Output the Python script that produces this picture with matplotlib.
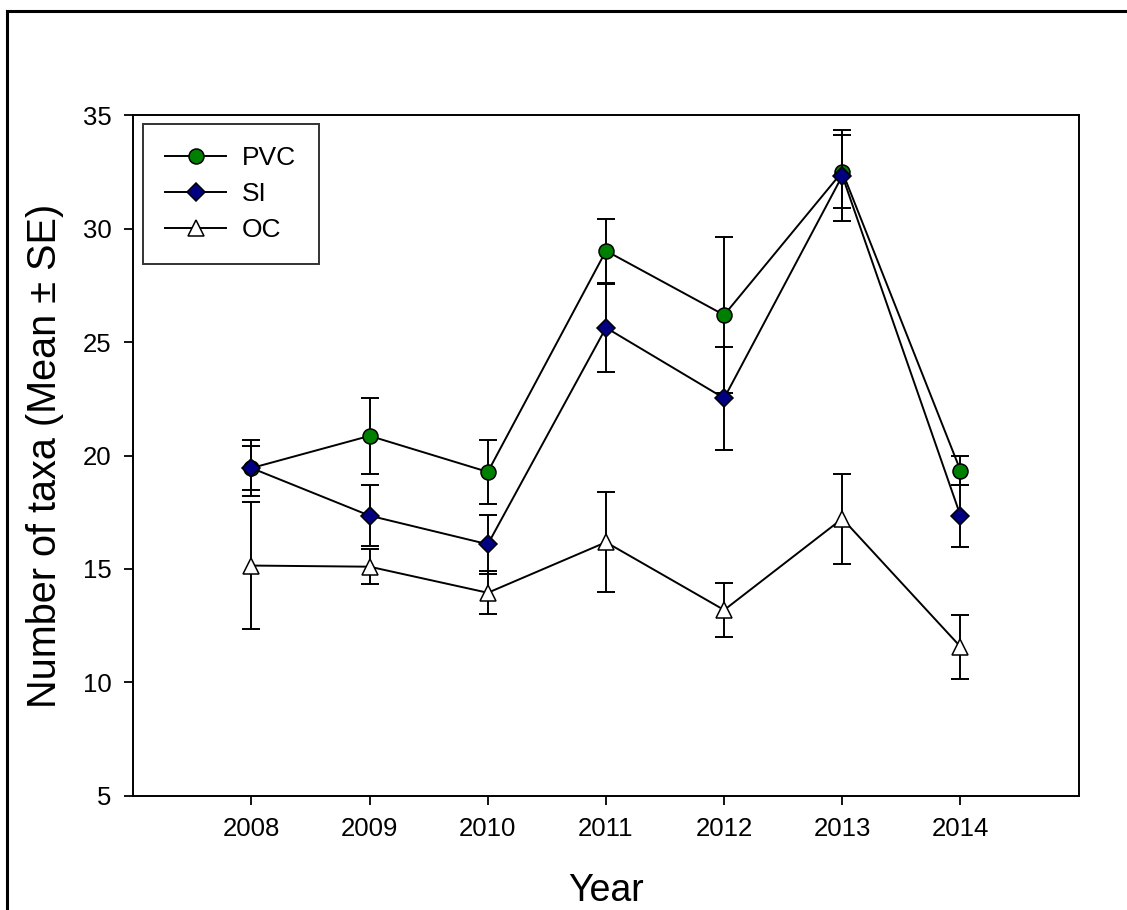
import matplotlib
matplotlib.use('Agg')
import matplotlib.pyplot as plt
from matplotlib.lines import Line2D
import numpy as np

plt.rcParams['font.family'] = ['Liberation Sans', 'DejaVu Sans']

# data
years = [2008, 2009, 2010, 2011, 2012, 2013, 2014]
pvc_mean = [19.45, 20.87, 19.28, 29.03, 26.20, 32.52, 19.34]
pvc_se = [1.24, 1.66, 1.42, 1.40, 3.45, 1.60, 0.64]
si_mean = [19.45, 17.35, 16.09, 25.64, 22.53, 32.34, 17.35]
si_se = [0.96, 1.35, 1.30, 1.94, 2.27, 2.00, 1.37]
oc_mean = [15.15, 15.10, 13.95, 16.18, 13.19, 17.22, 11.57]
oc_se = [2.80, 0.76, 0.95, 2.20, 1.20, 1.98, 1.42]

series = [
    ('PVC', pvc_mean, pvc_se, 'o', '#008000', 10.8),
    ('SI', si_mean, si_se, 'D', '#000080', 9.6),
    ('OC', oc_mean, oc_se, '^', 'white', 11),
]

fig = plt.figure(figsize=(11.27, 9.10), dpi=100)
ax = fig.add_axes([0.1183, 0.1256, 0.9571 - 0.1183, 0.8731 - 0.1256])

for i, (name, m, se, mk, col, ms) in enumerate(series):
    ax.errorbar(years, m, yerr=se, fmt='none', ecolor='black',
                elinewidth=1.4, capsize=6.8, capthick=1.4, zorder=2 + i)
    ax.plot(years, m, color='black', lw=1.4, marker=mk, markersize=ms,
            markerfacecolor=col, markeredgecolor='black', markeredgewidth=1.1,
            label=name, zorder=2 + i)

ax.set_xlim(2007, 2015)
ax.set_ylim(5, 35)
ax.set_xticks(years)
ax.set_yticks([5, 10, 15, 20, 25, 30, 35])
ax.tick_params(direction='out', length=6.5, width=1.3, labelsize=18.5,
               top=False, right=False, pad=9)
for sp in ax.spines.values():
    sp.set_linewidth(1.4)

ax.set_xlabel('Year', fontsize=27, labelpad=23)
ax.set_ylabel('Number of taxa (Mean ± SE)', fontsize=28.5, labelpad=14)

leg = ax.legend(loc='upper left', bbox_to_anchor=(0.1269, 0.864),
                bbox_transform=fig.transFigure, borderaxespad=0,
                fontsize=19, frameon=True, fancybox=False, numpoints=1,
                handlelength=2.3, handletextpad=0.6, borderpad=0.85,
                labelspacing=0.45)
leg.get_frame().set_edgecolor('black')
leg.get_frame().set_linewidth(1.4)

# page frame (left and top edges)
fig.add_artist(Line2D([7 / 1127, 7 / 1127], [0, 1 - 11 / 910], color='black',
                      lw=2.2, transform=fig.transFigure))
fig.add_artist(Line2D([7 / 1127, 1], [1 - 11 / 910, 1 - 11 / 910], color='black',
                      lw=2.2, transform=fig.transFigure))

fig.savefig('out.png', dpi=100)
